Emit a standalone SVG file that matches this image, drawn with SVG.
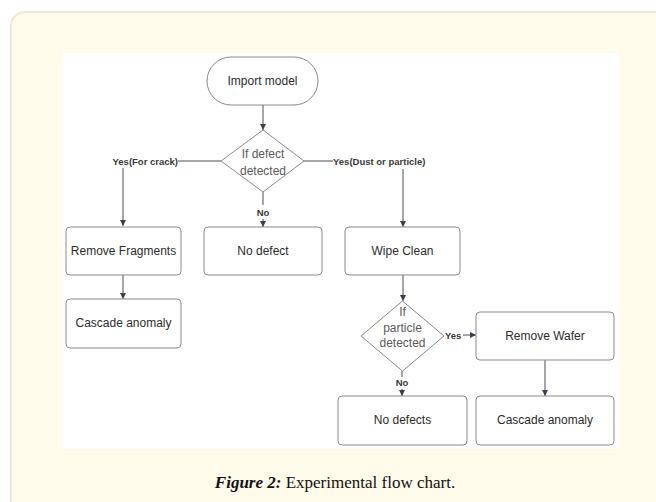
<svg xmlns="http://www.w3.org/2000/svg" width="656" height="502" viewBox="0 0 656 502">
<defs>
<marker id="arr" viewBox="0 0 10 10" refX="10" refY="5" markerWidth="6" markerHeight="7" markerUnits="userSpaceOnUse" orient="auto">
<path d="M0,0 L10,5 L0,10 z" fill="#3a3f48"/>
</marker>
</defs>
<style>
.node{fill:#ffffff;stroke:#8a8a8a;stroke-width:1}
.t{font-family:"Liberation Sans",Arial,sans-serif;font-size:12px;fill:#2b2b2b;text-anchor:middle}
.dt{font-family:"Liberation Sans",Arial,sans-serif;font-size:12px;fill:#5a5a5a;text-anchor:middle}
.lbl{font-family:"Liberation Sans",Arial,sans-serif;font-size:9.5px;font-weight:bold;fill:#3a3a3a}
.ln{fill:none;stroke:#4a4f58;stroke-width:1}
.cap{font-family:"Liberation Serif","Times New Roman",serif;font-size:17px;fill:#111}
</style>
<rect x="11" y="12" width="660" height="510" rx="14" fill="#fefbea" stroke="#ece9db" stroke-width="2"/>
<rect x="63" y="53" width="556" height="396" fill="#ffffff"/>

<g id="connectors">
<line class="ln" x1="263" y1="105" x2="263" y2="130" marker-end="url(#arr)"/>
<line class="ln" x1="221" y1="161" x2="178" y2="161"/>
<text class="lbl" x="178" y="164.5" text-anchor="end">Yes(For crack)</text>
<line class="ln" x1="123" y1="168" x2="123" y2="226" marker-end="url(#arr)"/>
<line class="ln" x1="304" y1="161" x2="333" y2="161"/>
<text class="lbl" x="333" y="164.5">Yes(Dust or particle)</text>
<line class="ln" x1="403" y1="169" x2="403" y2="227" marker-end="url(#arr)"/>
<line class="ln" x1="263" y1="192" x2="263" y2="205"/>
<text class="lbl" x="263" y="216" text-anchor="middle">No</text>
<line class="ln" x1="263" y1="219" x2="263" y2="227" marker-end="url(#arr)"/>
<line class="ln" x1="123" y1="275" x2="123" y2="299" marker-end="url(#arr)"/>
<line class="ln" x1="403" y1="275" x2="403" y2="301" marker-end="url(#arr)"/>
<text class="lbl" x="445" y="338.5">Yes</text>
<line class="ln" x1="463" y1="335" x2="476" y2="335" marker-end="url(#arr)"/>
<text class="lbl" x="402" y="386" text-anchor="middle">No</text>
<line class="ln" x1="402" y1="371" x2="402" y2="377"/>
<line class="ln" x1="402" y1="389" x2="402" y2="396" marker-end="url(#arr)"/>
<line class="ln" x1="545" y1="360" x2="545" y2="396" marker-end="url(#arr)"/>
</g>

<g id="import-model">
<rect class="node" x="207" y="57" width="111" height="48" rx="24"/>
<text class="t" x="262.5" y="85">Import model</text>
</g>
<g id="if-defect">
<polygon class="node" points="263,130 304,161 263,192 221,161"/>
<text class="dt" x="263" y="158">If defect</text>
<text class="dt" x="263" y="175">detected</text>
</g>
<g id="remove-fragments">
<rect class="node" x="66" y="227" width="115" height="48" rx="4"/>
<text class="t" x="123.5" y="255">Remove Fragments</text>
</g>
<g id="no-defect">
<rect class="node" x="204" y="227" width="118" height="48" rx="4"/>
<text class="t" x="263" y="255">No defect</text>
</g>
<g id="wipe-clean">
<rect class="node" x="345" y="227" width="115" height="48" rx="4"/>
<text class="t" x="402.5" y="255">Wipe Clean</text>
</g>
<g id="cascade-left">
<rect class="node" x="66" y="299" width="115" height="49" rx="4"/>
<text class="t" x="123.5" y="327">Cascade anomaly</text>
</g>
<g id="if-particle">
<polygon class="node" points="402.5,301 444,336 402.5,371 361,336"/>
<text class="dt" x="402.5" y="316">If</text>
<text class="dt" x="402.5" y="332">particle</text>
<text class="dt" x="402.5" y="347">detected</text>
</g>
<g id="remove-wafer">
<rect class="node" x="476" y="312" width="138" height="48" rx="4"/>
<text class="t" x="545" y="340">Remove Wafer</text>
</g>
<g id="no-defects">
<rect class="node" x="338" y="396" width="129" height="49" rx="4"/>
<text class="t" x="402.5" y="424">No defects</text>
</g>
<g id="cascade-right">
<rect class="node" x="476" y="396" width="138" height="49" rx="4"/>
<text class="t" x="545" y="424">Cascade anomaly</text>
</g>

<text class="cap" x="335" y="488" text-anchor="middle"><tspan font-weight="bold" font-style="italic">Figure 2:</tspan> Experimental flow chart.</text>
</svg>
